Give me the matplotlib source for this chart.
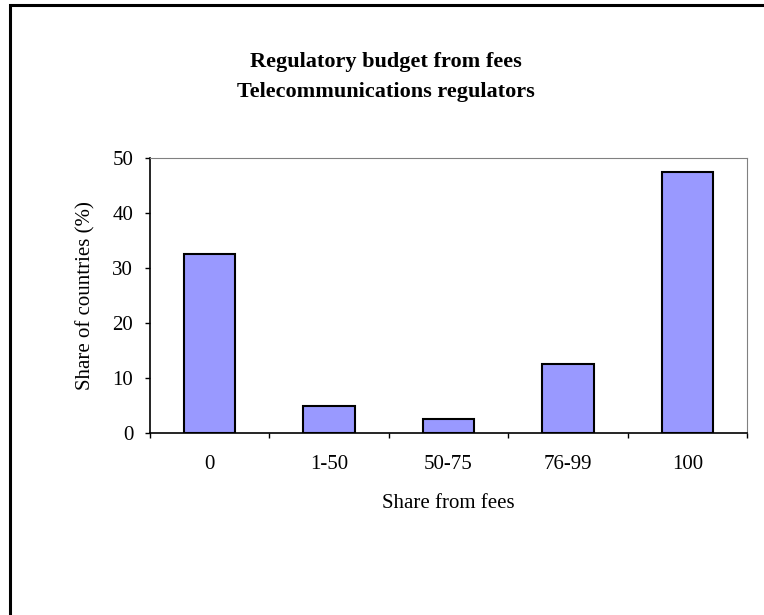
import matplotlib.pyplot as plt
from matplotlib.patches import Rectangle

categories = ['0', '1-50', '50-75', '76-99', '100']
shares = [32.5, 5.0, 2.5, 12.5, 47.5]
yticks = [0, 10, 20, 30, 40, 50]

plt.rcParams['font.family'] = 'Liberation Serif'

fig = plt.figure(figsize=(7.64, 6.15), dpi=100)
W, H = 764, 615
ax = fig.add_axes([150 / W, 1 - 433 / H, 597 / W, 275 / H])

x = range(len(categories))
ax.bar(x, shares, width=0.43, color='#9999ff', edgecolor='black', linewidth=1.5)

ax.set_xlim(-0.5, len(categories) - 0.5)
ax.set_ylim(0, 50)
ax.set_yticks(yticks)
ax.set_yticklabels([str(t) for t in yticks], fontsize=15)
ax.set_xticks(list(x))
ax.set_xticklabels(categories, fontsize=15)
ax.tick_params(axis='x', length=0, pad=16)
ax.set_xticks([i + 0.5 for i in range(-1, len(categories))], minor=True)
ax.tick_params(axis='x', which='minor', length=3.6, width=1, direction='out')
ax.tick_params(axis='y', length=3.6, width=1, direction='out', pad=8.5)

for s in ['top', 'right']:
    ax.spines[s].set_color('#808080')
for s in ['left', 'bottom']:
    ax.spines[s].set_color('black')
    ax.spines[s].set_linewidth(1.2)

ax.set_ylabel('Share of countries (%)', fontsize=15, labelpad=12)
ax.set_xlabel('Share from fees', fontsize=15, labelpad=14)

fig.text(386 / W, 1 - 62 / H, 'Regulatory budget from fees', ha='center', va='center',
         fontsize=16, fontweight='bold')
fig.text(386 / W, 1 - 92 / H, 'Telecommunications regulators', ha='center', va='center',
         fontsize=16, fontweight='bold')

# outer border of the chart area (cut off at right and bottom)
fig.patches.append(Rectangle((10 / W, -0.1), 1.2, 1 - 5 / H + 0.1, transform=fig.transFigure,
                             fill=False, edgecolor='black', linewidth=2.2))

fig.savefig('out.png', dpi=100)
